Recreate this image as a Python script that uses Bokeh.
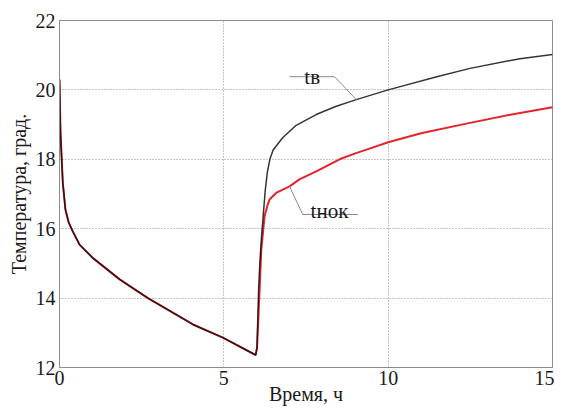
from bokeh.plotting import figure
from bokeh.models import Range1d, FixedTicker
from bokeh.core.properties import value
from bokeh.embed import file_html
from bokeh.resources import INLINE

# ---- data ----
# shared cooling segment (both curves coincide until heating starts)
t_common = [0, 0.03, 0.10, 0.18, 0.28, 0.40, 0.61, 1.01, 1.83, 2.69, 4.06, 4.97, 5.97]
temp_common = [20.3, 18.77, 17.33, 16.55, 16.18, 15.93, 15.54, 15.16, 14.54, 14.0, 13.24, 12.86, 12.36]

# t_в (air temperature) after heating starts
t_v_after = [6.01, 6.03, 6.06, 6.10, 6.15, 6.20, 6.26, 6.32, 6.40, 6.50, 6.79, 7.2, 7.81, 8.4,
             9.03, 10.0, 11.48, 12.49, 14.01, 15.0]
temp_v_after = [12.6, 13.3, 14.3, 15.1, 15.8, 16.4, 17.1, 17.6, 18.0, 18.27, 18.62, 18.98, 19.29, 19.52,
                19.72, 20.0, 20.38, 20.62, 20.9, 21.02]

# t_нок after heating starts
t_nok_after = [6.01, 6.05, 6.10, 6.14, 6.24, 6.32, 6.39, 6.59, 7.0, 7.30, 7.81, 8.52, 9.0, 9.5,
               10.0, 11.0, 12.49, 13.8, 15.0]
temp_nok_after = [12.55, 13.4, 14.5, 15.4, 16.36, 16.65, 16.84, 17.03, 17.22, 17.42, 17.65, 18.0, 18.17, 18.33,
                  18.49, 18.75, 19.05, 19.3, 19.5]

t_v = t_common + t_v_after
temp_v = temp_common + temp_v_after
t_nok = t_common + t_nok_after
temp_nok = temp_common + temp_nok_after

x_ticks = [0, 5, 10, 15]
y_ticks = [12, 14, 16, 18, 20, 22]
x_min, x_max = 0, 15
y_min, y_max = 12, 22

label_v = "tв"
label_nok = "tнок"
label_v_pos = (7.45, 20.38)
label_nok_pos = (7.64, 16.5)
leader_v_x = [7.0, 8.37, 9.03]
leader_v_y = [20.38, 20.38, 19.72]
leader_nok_x = [7.0, 7.4, 9.08]
leader_nok_y = [17.22, 16.41, 16.41]

x_title = "Время, ч"
y_title = "Температура, град."

FONT = "'Liberation Serif', 'Times New Roman', serif"
GRID = "#8a8a8a"

p = figure(frame_width=493, frame_height=347,
           min_border_left=59, min_border_right=2, min_border_top=20, min_border_bottom=42,
           x_range=Range1d(x_min, x_max), y_range=Range1d(y_min, y_max),
           output_backend="svg", toolbar_location=None,
           background_fill_color="white", border_fill_color="white")

p.outline_line_color = "#8c8c8c"
p.outline_line_width = 1

for ax in (p.xaxis[0], p.yaxis[0]):
    ax.axis_line_color = "#8c8c8c"
    ax.major_tick_out = 0
    ax.major_tick_in = 0
    ax.minor_tick_out = 0
    ax.minor_tick_in = 0
    ax.major_label_text_font = FONT
    ax.major_label_text_font_size = "20px"
    ax.major_label_text_color = "#1a1a1a"
    ax.axis_label_text_font = FONT
    ax.axis_label_text_font_size = "20px"
    ax.axis_label_text_font_style = "normal"
    ax.axis_label_text_color = "#1a1a1a"

p.xaxis[0].ticker = FixedTicker(ticks=x_ticks)
p.yaxis[0].ticker = FixedTicker(ticks=y_ticks)
p.xaxis[0].major_label_standoff = 3
p.yaxis[0].major_label_standoff = 4

p.yaxis[0].axis_label = y_title
p.yaxis[0].axis_label_standoff = 3
p.xaxis[0].axis_label = x_title
p.xaxis[0].axis_label_standoff = -5

p.xgrid.grid_line_color = GRID
p.ygrid.grid_line_color = GRID
p.xgrid.grid_line_dash = "1 2"
p.ygrid.grid_line_dash = "1 2"
p.xgrid.grid_line_width = 1
p.ygrid.grid_line_width = 1

# curves
p.line(t_nok, temp_nok, line_color="#e3242b", line_width=2.0)
p.line(t_v, temp_v, line_color="#111111", line_width=1.5, line_alpha=0.85)

# leader lines and labels
p.line(leader_v_x, leader_v_y, line_color="#8a8a8a", line_width=1)
p.line(leader_nok_x, leader_nok_y, line_color="#8a8a8a", line_width=1)
p.text(x=[label_v_pos[0]], y=[label_v_pos[1]], text=[label_v],
       text_font=value(FONT), text_font_size="21px", text_color="#1a1a1a",
       text_baseline="alphabetic", text_align="left")
p.text(x=[label_nok_pos[0]], y=[label_nok_pos[1]], text=[label_nok],
       text_font=value(FONT), text_font_size="21px", text_color="#1a1a1a",
       text_baseline="alphabetic", text_align="left")

open("out.html", "w").write(file_html(p, INLINE))
